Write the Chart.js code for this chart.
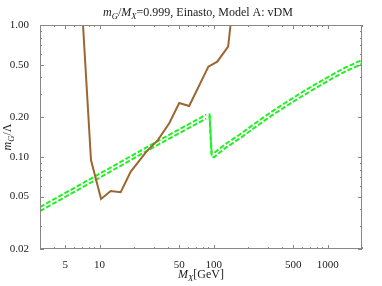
<!DOCTYPE html>
<html>
<head>
<meta charset="utf-8">
<script src="https://cdn.jsdelivr.net/npm/chart.js@4.4.1/dist/chart.umd.min.js"></script>
<style>
html,body{margin:0;padding:0;background:#fff;}
#wrap{width:382px;height:286px;position:relative;}
</style>
</head>
<body>
<div id="wrap"><canvas id="c" width="382" height="286"></canvas></div>
<script>
// axis ticks
const xTicks = [5, 10, 50, 100, 500, 1000];
const yTicks = [0.02, 0.05, 0.10, 0.20, 0.50, 1.00];

// brown curve
const brownX = [7.15, 8.4, 10.3, 12.5, 15.3, 18.7, 25.6, 32.4, 40.8, 49.9, 61, 89.9, 107.6, 134, 140.6];
const brownY = [1.0, 0.0946, 0.0479, 0.055, 0.054, 0.077, 0.109, 0.134, 0.18, 0.256, 0.243, 0.483, 0.527, 0.685, 1.0];

// green band, two dashed edges (null = break)
const greenX  = [3, 10, 30, 86, 89, 92, 96, 101, 127, 172, 232, 313, 423, 571, 771, 1041, 1405, 2000];
const greenHi = [0.0416, 0.0744, 0.127, 0.209, null, 0.213, 0.108, 0.107, 0.125, 0.149, 0.180, 0.216, 0.256, 0.302, 0.353, 0.410, 0.472, 0.543];
const greenLo = [0.0388, 0.0695, 0.119, 0.195, null, 0.205, 0.100, 0.0995, 0.117, 0.139, 0.168, 0.202, 0.239, 0.282, 0.329, 0.383, 0.441, 0.507];

const serif = "'Liberation Serif','DejaVu Serif',serif";
const pts = (xs, ys) => xs.map((x, i) => ({x: x, y: ys[i]}));

// draws text pieces, some italic / subscript
function rich(ctx, parts, x, y, size, align){
  let w = 0;
  parts.forEach(p => {
    ctx.font = (p.it ? "italic " : "") + (p.sub ? size*0.72 : size) + "px " + serif;
    p.w = ctx.measureText(p.t).width;
    w += p.w;
  });
  let cx = align == "center" ? x - w/2 : x;
  ctx.textAlign = "left";
  ctx.textBaseline = "alphabetic";
  parts.forEach(p => {
    ctx.font = (p.it ? "italic " : "") + (p.sub ? size*0.72 : size) + "px " + serif;
    ctx.fillText(p.t, cx, y + (p.sub ? size*0.22 : 0));
    cx += p.w;
  });
}

const frame = {
  id: "frame",
  afterDraw(chart){
    const ctx = chart.ctx, a = chart.chartArea;
    const xs = chart.scales.x, ys = chart.scales.y;
    ctx.save();
    ctx.strokeStyle = "#888";
    ctx.lineWidth = 1;
    ctx.strokeRect(a.left + 0.5, a.top + 0.5, a.right - a.left - 1, a.bottom - a.top - 1);
    ctx.beginPath();
    // x ticks
    for (let d = 1; d <= 1000; d *= 10) {
      for (let m = 1; m <= 9; m++) {
        const v = d*m;
        if (v < 3 || v > 2000) continue;
        const px = Math.round(xs.getPixelForValue(v)) + 0.5;
        const len = (m == 1 || m == 5) ? 4 : 2;
        ctx.moveTo(px, a.bottom); ctx.lineTo(px, a.bottom - len);
        ctx.moveTo(px, a.top); ctx.lineTo(px, a.top + len);
      }
    }
    // y ticks
    for (let d = 0.01; d <= 1; d *= 10) {
      for (let m = 1; m <= 9; m++) {
        const v = d*m;
        if (v < 0.0199 || v > 1.001) continue;
        const py = Math.round(ys.getPixelForValue(v)) + 0.5;
        const len = (m == 1 || m == 2 || m == 5) ? 4 : 2;
        ctx.moveTo(a.left, py); ctx.lineTo(a.left + len, py);
        ctx.moveTo(a.right, py); ctx.lineTo(a.right - len, py);
      }
    }
    ctx.stroke();

    ctx.fillStyle = "#222";
    rich(ctx, [{t:"m",it:1},{t:"G",it:1,sub:1},{t:"/"},{t:"M",it:1},{t:"X",it:1,sub:1},{t:"=0.999, Einasto, Model A: vDM"}], 198, 16, 12, "center");
    rich(ctx, [{t:"M",it:1},{t:"X",it:1,sub:1},{t:"[GeV]"}], 201, 278, 12, "center");
    ctx.translate(11, 137);
    ctx.rotate(-Math.PI/2);
    rich(ctx, [{t:"m",it:1},{t:"G",it:1,sub:1},{t:"/Λ"}], 0, 0, 12, "center");
    ctx.restore();
  }
};

const green = "#22f022";

new Chart(document.getElementById("c"), {
  type: "line",
  data: {
    datasets: [
      {data: pts(brownX, brownY), borderColor: "#9c6630", borderWidth: 2, pointRadius: 0, tension: 0},
      {data: pts(greenX, greenHi), borderColor: green, borderWidth: 2, borderDash: [5, 2], pointRadius: 0, tension: 0},
      {data: pts(greenX, greenLo), borderColor: green, borderWidth: 2, borderDash: [5, 2], pointRadius: 0, tension: 0}
    ]
  },
  options: {
    responsive: false,
    animation: false,
    spanGaps: false,
    layout: {padding: {top: 25, right: 20, left: 0, bottom: 0}},
    plugins: {legend: {display: false}, tooltip: {enabled: false}},
    scales: {
      x: {
        type: "logarithmic", min: 3, max: 2000,
        grid: {display: false}, border: {display: false},
        afterBuildTicks: s => { s.ticks = xTicks.map(v => ({value: v})); },
        afterFit: s => { s.height = 37; },
        ticks: {autoSkip: false, maxRotation: 0, padding: 2, color: "#222",
          font: {family: serif, size: 11}, callback: v => String(v)}
      },
      y: {
        type: "logarithmic", min: 0.02, max: 1,
        grid: {display: false}, border: {display: false},
        afterBuildTicks: s => { s.ticks = yTicks.map(v => ({value: v})); },
        afterFit: s => { s.width = 40; },
        ticks: {autoSkip: false, padding: 3, color: "#222",
          font: {family: serif, size: 11}, callback: v => Number(v).toFixed(2)}
      }
    }
  },
  plugins: [frame]
});
</script>
</body>
</html>
